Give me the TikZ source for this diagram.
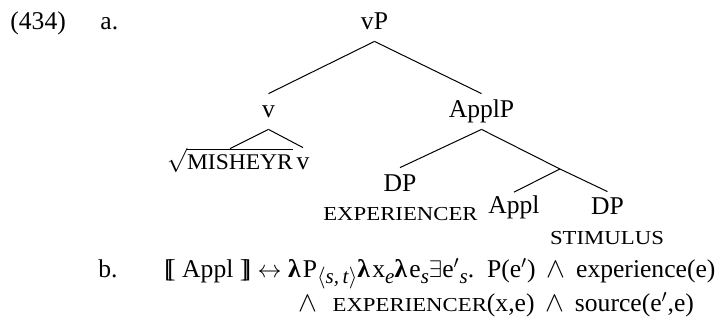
\documentclass[tikz,border=0pt]{standalone}
\usepackage{amsmath}
\usepackage{graphicx}
\usepackage{fontspec}
\setmainfont{Liberation Serif}
\newcommand\smcap[1]{{\fontsize{9.9pt}{11pt}\selectfont\scalebox{1.15}[1]{#1}}}
\newcommand\bigsc[1]{{\fontsize{11.2pt}{12pt}\selectfont\scalebox{1.05}[1]{#1}}}
\newcommand\dbl[1]{#1\kern-0.22em#1}
\newcommand\lam{\textbf{λ}\kern0.09em}
\newcommand\sub[1]{\raisebox{-0.25em}{\fontsize{10.5pt}{11pt}\selectfont #1}}
\newcommand\wsym{\scalebox{1.18}{$\wedge$}}
\newcommand\wed{\hspace{0.42em}\wsym\hspace{0.42em}}
\tikzset{
  lbl/.style={anchor=base, inner sep=0pt},
  tn/.style={anchor=base, inner sep=0pt, text height=11.5pt, text depth=6pt},
  branch/.style={line width=0.5pt},
}
\begin{document}
\begin{tikzpicture}[x=0.5pt, y=-0.5pt, font=\fontsize{12.8pt}{15pt}\selectfont]
\useasboundingbox (0,0) rectangle (725,323);
% labels
\node[lbl, anchor=base west] (ex) at (10,29.5) {(434)};
\node[lbl, anchor=base west] (a) at (100,29.5) {a.};
\node[lbl, anchor=base west] (b) at (98,277) {b.};
% tree
\node[tn] (vP) at (374.5,29) {vP};
\node[tn] (v) at (268.5,117) {v};
\node[tn] (ApplP) at (481.5,117) {ApplP};
\node[tn, text height=10pt] (root) at (230,169) {$\sqrt{\mbox{\bigsc{MISHEYR}}}$};
\node[tn, text height=10.5pt] (vh) at (303,169) {v};
\node[tn] (DPe) at (400,191) {DP};
\node[lbl] (exp) at (400.5,220) {\smcap{EXPERIENCER}};
\node[tn, text height=10.5pt] (Appl) at (514,213.5) {Appl};
\node[tn, text height=11pt] (DPs) at (607.5,214) {DP};
\node[lbl] (stim) at (607,244) {\smcap{STIMULUS}};
\coordinate (Abar) at (560,169);
\draw[branch] (vP.south) -- (v.north);
\draw[branch] (vP.south) -- (ApplP.north);
\draw[branch] (v.south) -- (root.north);
\draw[branch] (v.south) -- (vh.north);
\draw[branch] (ApplP.south) -- (DPe.north);
\draw[branch] (ApplP.south) -- (Abar) -- (DPs.north);
\draw[branch] (Abar) -- (Appl.north);
% formula
\node[lbl, anchor=base west] (f1) at (164,277) {\dbl{[} Appl \dbl{]} $\leftrightarrow$ \lam P\sub{$\langle$\textit{s,\,t}$\rangle$}\lam x\sub{\textit{e}}\lam e\sub{\textit{s}}$\exists$e$'$\sub{\textit{s}}.\enspace P(e$'$)\wed experience(e)};
\node[lbl, anchor=base west] (f2) at (298,311) {\wsym\hspace{0.6em}\smcap{EXPERIENCER}(x,e)\wed source(e$'$,e)};
\end{tikzpicture}
\end{document}
